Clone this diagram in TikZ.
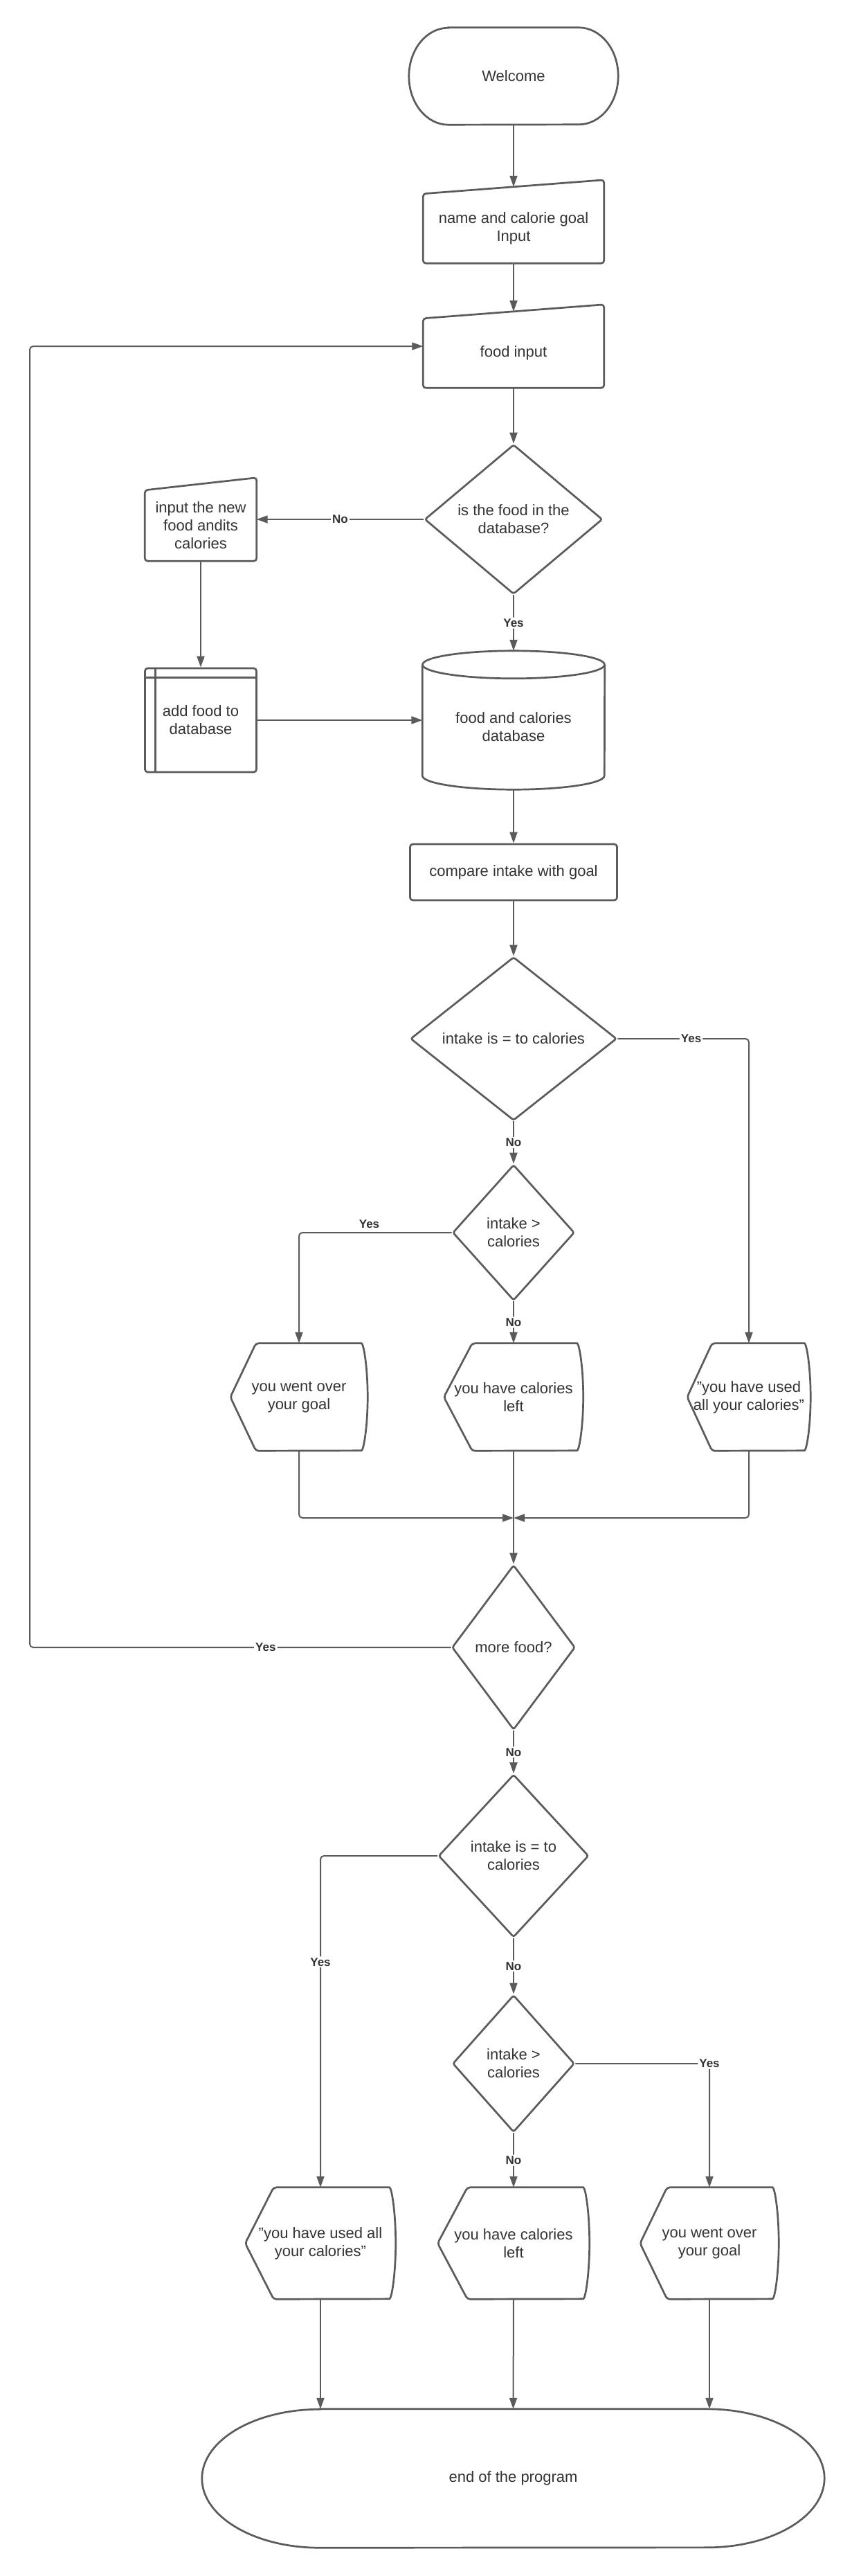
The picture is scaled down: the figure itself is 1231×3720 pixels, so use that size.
\documentclass[tikz,border=0pt]{standalone}
\usepackage{fontspec}
\setmainfont{Liberation Sans}
\usepackage{tikz}
\usetikzlibrary{shapes.geometric}
\usetikzlibrary{arrows.meta}
\usetikzlibrary{calc}

\definecolor{flowline}{HTML}{5B5B5B}
\definecolor{flowtext}{HTML}{333333}

% manual input: top edge rises by #2 towards the right
\newcommand{\inputbox}[2]{%
	\draw[outline] (#1.south west) -- (#1.south east) -- ([yshift=#2]#1.north east) -- (#1.north west) -- cycle;}
% display: pointed left side (depth #2), bulging right side (half height #3)
\newcommand{\screenbox}[3]{%
	\draw[outline] ([xshift=#2]#1.north west) -- ([xshift=-13pt]#1.north east)
		arc[start angle=90,end angle=-90,x radius=13pt,y radius=#3]
		-- ([xshift=#2]#1.south west) -- (#1.west) -- cycle;}
% terminal: elliptic ends
\newcommand{\termbox}[3]{%
	\draw[outline,sharp corners] ([xshift=#2]#1.north west) -- ([xshift=-#2]#1.north east)
		arc[start angle=90,end angle=-90,x radius=#2,y radius=#3] -- ([xshift=#2]#1.south west)
		arc[start angle=270,end angle=90,x radius=#2,y radius=#3] -- cycle;}

\begin{document}
\begin{tikzpicture}[x=1pt, y=-1pt,
	every node/.style={font=\fontsize{22}{26}\selectfont, text=flowtext, align=center, inner sep=0pt},
	outline/.style={draw=flowline, line width=2.7pt, rounded corners=4pt},
	decision/.style={diamond, outline, rounded corners=3pt},
	flow/.style={color=flowline, line width=2pt, rounded corners=5pt, -{Triangle[length=16pt,width=11pt]}},
	answer/.style={font=\fontsize{17}{20}\selectfont\bfseries, fill=white, inner sep=2pt}]
	\useasboundingbox (0,0) rectangle (1231,3720);

	% start and input
	\node[minimum width=302pt, minimum height=140pt] (welcome) at (742,110) {Welcome};
	\termbox{welcome}{57pt}{70pt}
	\node[minimum width=261pt, minimum height=100pt] (namein) at (742,330) {name and calorie goal\\Input};
	\inputbox{namein}{20pt}
	\node[minimum width=261pt, minimum height=100pt] (foodin) at (742,510) {food input};
	\inputbox{foodin}{20pt}

	% database check
	\node[decision, minimum width=257pt, minimum height=216pt, aspect=1.2] (indb) at (742,750) {is the food in the\\database?};
	\node[minimum width=161pt, minimum height=102pt] (newfood) at (290,759) {input the new\\food andits\\calories};
	\inputbox{newfood}{18pt}
	\node[outline, minimum width=161pt, minimum height=150pt] (addfood) at (290,1040) {add food to\\database};
	\draw[outline] ([xshift=16pt]addfood.north west) -- ([xshift=16pt]addfood.south west)
		([yshift=-15pt]addfood.north west) -- ([yshift=-15pt]addfood.north east);
	\node[minimum width=263pt, minimum height=180pt] (foodb) at (742,1050) {food and calories\\database};
	\draw[outline, sharp corners] (foodb.north west) -- ([yshift=20pt]foodb.south west)
		arc[start angle=180,end angle=360,x radius=131.5pt,y radius=20pt] -- (foodb.north east);
	\draw[outline] (foodb.north) ellipse[x radius=131.5pt, y radius=20pt];
	\node[outline, minimum width=299pt, minimum height=81pt] (compare) at (742,1259.5) {compare intake with goal};

	% first comparison
	\node[decision, minimum width=298pt, minimum height=236pt, aspect=1.25] (eqA) at (742,1500) {intake is = to calories};
	\node[decision, minimum width=176pt, minimum height=196pt, aspect=0.9] (gtA) at (742,1780) {intake >\\calories};
	\node[minimum width=198pt, minimum height=155pt] (overA) at (432,2017.5) {you went over\\your goal};
	\screenbox{overA}{37pt}{77.5pt}
	\node[minimum width=201pt, minimum height=155pt] (leftA) at (742,2017.5) {you have calories\\left};
	\screenbox{leftA}{41pt}{77.5pt}
	\node[minimum width=178pt, minimum height=155pt] (usedA) at (1082,2017.5) {"you have used\\all your calories"};
	\screenbox{usedA}{36pt}{77.5pt}
	\coordinate (merge) at (742,2192);

	% loop
	\node[decision, minimum width=178pt, minimum height=238pt, aspect=0.75] (more) at (742,2379) {more food?};
	\coordinate (back) at (43,500);

	% final comparison
	\node[decision, minimum width=217pt, minimum height=235pt, aspect=0.9] (eqB) at (742,2680) {intake is = to\\calories};
	\node[decision, minimum width=176pt, minimum height=198pt, aspect=0.9] (gtB) at (742,2980) {intake >\\calories};
	\node[minimum width=217pt, minimum height=161pt] (usedB) at (463,3239.5) {"you have used all\\your calories"};
	\screenbox{usedB}{41pt}{80.5pt}
	\node[minimum width=219pt, minimum height=161pt] (leftB) at (742,3239.5) {you have calories\\left};
	\screenbox{leftB}{43pt}{80.5pt}
	\node[minimum width=200pt, minimum height=161pt] (overB) at (1025,3239.5) {you went over\\your goal};
	\screenbox{overB}{39pt}{80.5pt}
	\node[minimum width=899pt, minimum height=200pt] (stop) at (741.5,3579) {end of the program};
	\termbox{stop}{170pt}{100pt}

	\path[flow]
	(welcome.south) edge ([yshift=10pt]namein.north)
	(namein.south) edge ([yshift=10pt]foodin.north)
	(foodin.south) edge (indb.north)
	(indb.west) edge node[answer] {No} (indb.west -| newfood.east)
	(indb.south) edge node[answer] {Yes} ([yshift=20pt]foodb.north)
	(newfood.south) edge (addfood.north)
	(addfood.east) edge (addfood.east -| foodb.west)
	(foodb.south) edge (compare.north)
	(compare.south) edge (eqA.north)
	(eqA.south) edge node[answer] {No} (gtA.north)
	(gtA.south) edge node[answer] {No} (leftA.north)
	(leftA.south) edge (more.north)
	(more.south) edge node[answer] {No} (eqB.north)
	(eqB.south) edge node[answer] {No} (gtB.north)
	(gtB.south) edge node[answer] {No} (leftB.north)
	(usedB.south) edge (usedB.south |- stop.north)
	(leftB.south) edge (stop.north)
	(overB.south) edge (overB.south |- stop.north);
	\draw[flow] (eqA.east) -| node[answer, pos=0.28] {Yes} (usedA.north);
	\draw[flow] (gtA.west) -| node[answer, pos=0.27, above=3pt] {Yes} (overA.north);
	\draw[flow] (overA.south) |- (merge);
	\draw[flow] (usedA.south) |- (merge);
	\draw[flow] (more.west) -| node[answer, pos=0.22] {Yes} (back) -- ([yshift=10pt]foodin.west);
	\draw[flow] (eqB.west) -| node[answer, pos=0.66] {Yes} (usedB.north);
	\draw[flow] (gtB.east) -| node[answer, pos=0.5] {Yes} (overB.north);
\end{tikzpicture}
\end{document}
